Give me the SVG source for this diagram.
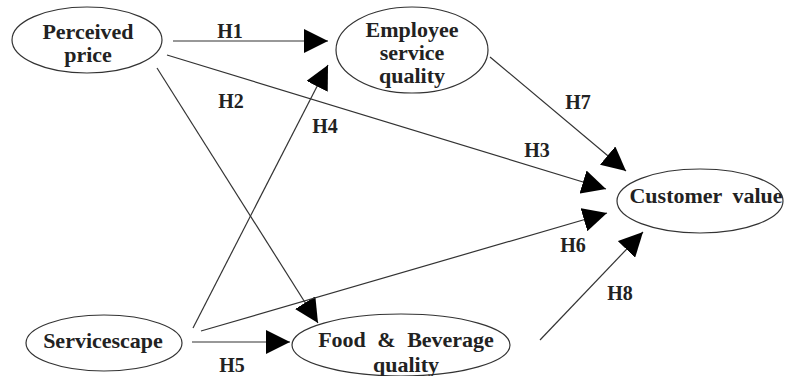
<svg xmlns="http://www.w3.org/2000/svg" width="785" height="376" viewBox="0 0 785 376">
<style>
.n{fill:#fff;stroke:#333;stroke-width:1.2}
.t{font-family:"Liberation Serif","Times New Roman",serif;font-weight:bold;font-size:22px;fill:#222;text-anchor:middle}
.h{font-family:"Liberation Serif","Times New Roman",serif;font-weight:bold;font-size:20px;fill:#222;text-anchor:middle}
.c{stroke:#333;stroke-width:1.2;fill:none;marker-end:url(#a)}
</style>
<defs>
<marker id="a" markerUnits="userSpaceOnUse" markerWidth="24" markerHeight="24" refX="24" refY="12" orient="auto">
<path d="M0,0 L24,12 L0,24 z" fill="#000"/>
</marker>
</defs>
<rect width="785" height="376" fill="#fff"/>
<g id="connectors">
<line class="c" x1="173" y1="41" x2="328" y2="41"/>
<line class="c" x1="157" y1="68" x2="318" y2="323"/>
<line class="c" x1="167" y1="55" x2="606" y2="189"/>
<line class="c" x1="193" y1="328" x2="328" y2="65"/>
<line class="c" x1="192" y1="342" x2="290" y2="342"/>
<line class="c" x1="201" y1="331" x2="607" y2="213"/>
<line class="c" x1="490" y1="57" x2="626" y2="171"/>
<line class="c" x1="540" y1="340" x2="643" y2="232"/>
</g>
<g id="labels">
<text class="h" x="230" y="38">H1</text>
<text class="h" x="231" y="108">H2</text>
<text class="h" x="537" y="157">H3</text>
<text class="h" x="325" y="133">H4</text>
<text class="h" x="232" y="372">H5</text>
<text class="h" x="573" y="252">H6</text>
<text class="h" x="578" y="109">H7</text>
<text class="h" x="620" y="300">H8</text>
</g>
<g id="perceived-price">
<ellipse class="n" cx="87" cy="40" rx="75" ry="33"/>
<text class="t" x="88" y="39">Perceived</text>
<text class="t" x="88" y="62">price</text>
</g>
<g id="employee-service-quality">
<ellipse class="n" cx="412" cy="50" rx="76" ry="43"/>
<text class="t" x="412" y="37">Employee</text>
<text class="t" x="412" y="60">service</text>
<text class="t" x="412" y="83">quality</text>
</g>
<g id="customer-value">
<ellipse class="n" cx="700" cy="201" rx="83" ry="32"/>
<text class="t" x="706" y="203" style="word-spacing:5px">Customer value</text>
</g>
<g id="servicescape">
<ellipse class="n" cx="104" cy="343" rx="78" ry="28"/>
<text class="t" x="103" y="348">Servicescape</text>
</g>
<g id="food-beverage-quality">
<ellipse class="n" cx="401" cy="345" rx="109" ry="31"/>
<text class="t" x="406" y="347" style="word-spacing:6px">Food &amp; Beverage</text>
<text class="t" x="406" y="372">quality</text>
</g>
</svg>
